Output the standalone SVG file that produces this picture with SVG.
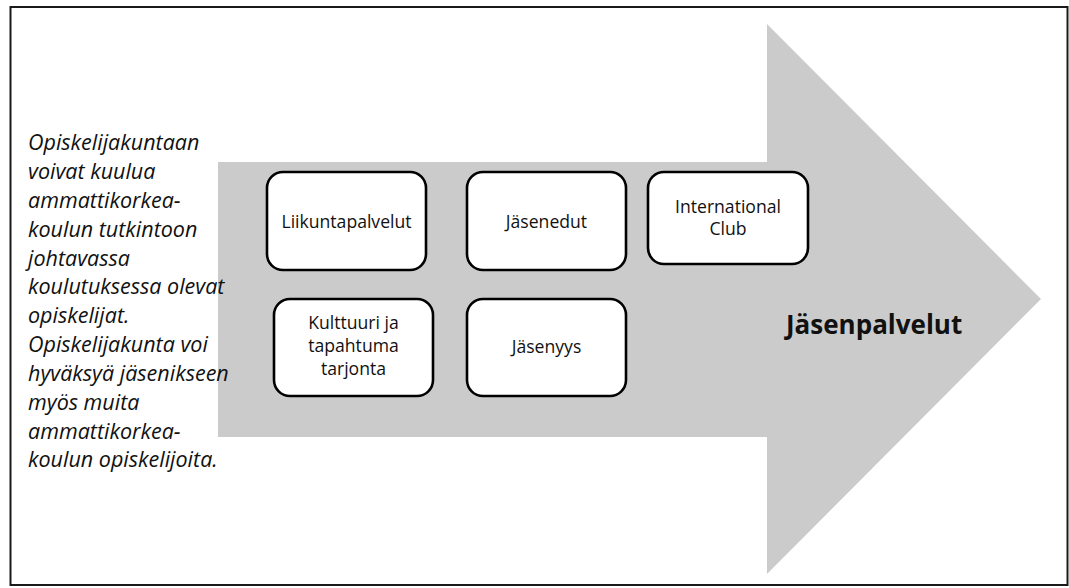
<svg xmlns="http://www.w3.org/2000/svg" width="1069" height="588" viewBox="0 0 1069 588">
  <style>
    .frame { fill: #ffffff; stroke: #1a1a1a; stroke-width: 2; }
    .arrow { fill: #cbcbcb; }
    .box { fill: #ffffff; stroke: #000000; stroke-width: 2.6; }
    .label { font-family: "Open Sans", "Liberation Sans", sans-serif; font-size: 17.6px; fill: #111111; text-anchor: middle; }
    .note { font-family: "Open Sans", "Liberation Sans", sans-serif; font-style: italic; font-size: 21.5px; fill: #111111; }
    .title { font-family: "Open Sans", "Liberation Sans", sans-serif; font-weight: bold; font-size: 26px; fill: #111111; }
  </style>

  <!-- outer frame -->
  <rect class="frame" x="10.5" y="7" width="1057" height="578"/>

  <!-- big block arrow -->
  <g id="arrow">
    <polygon class="arrow" points="218,162 767,162 767,24 1041,299 767,574 767,437 218,437"/>
    <text class="title" x="786" y="334">Jäsenpalvelut</text>
  </g>

  <!-- explanatory note -->
  <g id="note">
    <text class="note" x="28" y="150">Opiskelijakuntaan</text>
    <text class="note" x="28" y="179">voivat kuulua</text>
    <text class="note" x="28" y="208">ammattikorkea-</text>
    <text class="note" x="28" y="237">koulun tutkintoon</text>
    <text class="note" x="28" y="266">johtavassa</text>
    <text class="note" x="28" y="294">koulutuksessa olevat</text>
    <text class="note" x="28" y="323">opiskelijat.</text>
    <text class="note" x="28" y="352">Opiskelijakunta voi</text>
    <text class="note" x="28" y="381">hyväksyä jäsenikseen</text>
    <text class="note" x="28" y="410">myös muita</text>
    <text class="note" x="28" y="439">ammattikorkea-</text>
    <text class="note" x="28" y="467">koulun opiskelijoita.</text>
  </g>

  <!-- service boxes -->
  <g id="liikuntapalvelut">
    <rect class="box" x="267" y="172" width="159" height="98" rx="16"/>
    <text class="label" x="346.5" y="228">Liikuntapalvelut</text>
  </g>
  <g id="jasenedut">
    <rect class="box" x="467" y="172" width="159" height="98" rx="16"/>
    <text class="label" x="546.5" y="228">Jäsenedut</text>
  </g>
  <g id="international-club">
    <rect class="box" x="648" y="172" width="160" height="92" rx="16"/>
    <text class="label" x="728" y="213">International</text>
    <text class="label" x="728" y="235">Club</text>
  </g>
  <g id="kulttuuri">
    <rect class="box" x="274" y="299" width="159" height="97" rx="16"/>
    <text class="label" x="353.5" y="329">Kulttuuri ja</text>
    <text class="label" x="353.5" y="352">tapahtuma</text>
    <text class="label" x="353.5" y="375">tarjonta</text>
  </g>
  <g id="jasenyys">
    <rect class="box" x="467" y="299" width="159" height="97" rx="16"/>
    <text class="label" x="546.5" y="353">Jäsenyys</text>
  </g>

  <!-- no connectors between the boxes -->
  <g id="connectors"/>
</svg>
